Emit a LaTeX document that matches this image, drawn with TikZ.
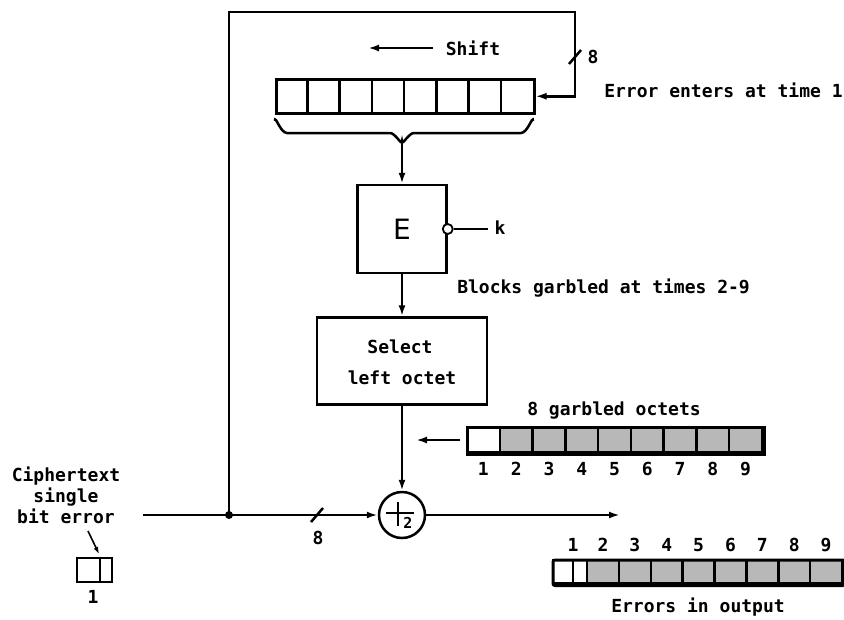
\documentclass[tikz,border=0pt]{standalone}
\usepackage{fontspec}
\newfontfamily\labf{DejaVu Sans Mono}
\newfontfamily\efont{DejaVu Sans}
\usetikzlibrary{arrows.meta,calc}
\begin{document}
\begin{tikzpicture}[x=1pt,y=-1pt,line width=2.5pt,
  >={Latex[length=11pt,width=7pt]},
  lbl/.style={font=\labf\bfseries\fontsize{18}{21}\selectfont,inner sep=0pt},
  box/.style={draw,line width=2.5pt,inner sep=0pt},
  shaded/.style={draw,line width=2.5pt,fill=black!28},
  plain/.style={draw,line width=2.5pt,fill=white}]
\useasboundingbox (0,0) rectangle (844,619);

% shift register
\node[box,minimum width=258pt,minimum height=34pt,anchor=north west] (reg) at (275,78) {};
\foreach \i in {1,...,7}
  \draw ($(reg.north west)+(\i*32.25,0)$) -- ($(reg.south west)+(\i*32.25,0)$);
\coordinate (shA) at (433,48);
\coordinate (shB) at (368,48);
\draw[->] (shA) -- (shB);
\node[lbl] (shift) at (473,48) {Shift};

% brace
\coordinate (brtip) at (402,141);
\draw (275,121) to[out=90,in=180] (287,133) -- (390,133) to[out=0,in=-90] (brtip)
      to[out=-90,in=180] (414,133) -- (521,133) to[out=0,in=90] (533,121);

% feedback loop
\coordinate (jn) at (229,515);
\coordinate (tl) at (229,12);
\coordinate (tr) at (575,12);
\draw[->] (jn) -- (tl) -- (tr) |- (reg.east);
\fill (jn) circle (4pt);
\draw (569,64) -- (581,50);
\node[lbl] (eight1) at (593,57) {8};
\node[lbl,anchor=west] (enters) at (603,90) {Error enters at time 1};

% E box
\node[box,minimum width=89pt,minimum height=88pt] (E) at (402,229) {\efont\fontsize{28}{28}\selectfont E};
\draw[->] (brtip) -- (E.north);
\node[draw,circle,fill=white,line width=1.8pt,minimum size=10pt,inner sep=0pt] (kc) at (E.east) {};
\coordinate (kend) at (488,229);
\draw (kc) -- (kend);
\node[lbl] (k) at (500,228) {k};
\node[lbl,anchor=west] (blocks) at (456,288) {Blocks garbled at times 2-9};

% select box
\node[box,minimum width=170pt,minimum height=87pt] (sel) at (402,361) {};
\node[lbl] (sel1) at (400,347) {Select};
\node[lbl] (sel2) at (402,378) {left octet};
\draw[->] (E.south) -- (sel.north);

% xor
\node[draw,circle,minimum size=46pt,inner sep=0pt] (xor) at (402,515) {};
\draw ($(xor.center)+(-16,-2)$) -- ($(xor.center)+(12,-2)$);
\draw ($(xor.center)+(-4,-13)$) -- ($(xor.center)+(-4,11)$);
\node[lbl,font=\labf\bfseries\fontsize{15}{15}\selectfont] (two) at ($(xor.center)+(6,8)$) {2};
\draw[->] (sel.south) -- (xor.north);

% input and output
\coordinate (in) at (143,515);
\coordinate (out) at (620,515);
\draw[->] (in) -- (xor.west);
\draw[->] (xor.east) -- (out);
\draw (311,522) -- (323,508);
\node[lbl] (eight2) at (318,538) {8};

% garbled octets
\node[inner sep=0pt,minimum width=295pt,minimum height=25pt,anchor=north west] (oct) at (467,427) {};
\draw[plain] (467,427) rectangle ++(32.78,25);
\foreach \i in {1,...,8}
  \draw[shaded] (467+\i*32.78,427) rectangle ++(32.78,25);
\foreach \i in {1,...,9}
  \node[lbl] at (467+\i*32.78-16.39,469) {\i};
\draw[line width=3pt] (oct.north west) rectangle (oct.south east);
\node[lbl] (garb) at (614,411) {8 garbled octets};
\coordinate (ocA) at (460,440);
\coordinate (ocB) at (416,440);
\draw[->] (ocA) -- (ocB);

% ciphertext error
\node[lbl,align=center] (ct) at (66,495) {Ciphertext\\single\\bit error};
\node[inner sep=0pt,minimum width=35pt,minimum height=24pt,anchor=north west] (bit) at (77,558) {};
\draw[plain,line width=2pt] (77,558) rectangle (100,582);
\draw[plain,line width=2pt] (100,558) rectangle (112,582);
\coordinate (bA) at (88,531);
\coordinate (bB) at (99,554);
\draw[->,line width=1.6pt,>={Latex[length=7pt,width=5pt]}] (bA) -- (bB);
\node[lbl] (one) at (93,597) {1};

% errors in output
\node[inner sep=0pt,minimum width=289pt,minimum height=23pt,anchor=north west] (outbar) at (553,560) {};
\draw[plain] (553,560) rectangle (573,583);
\draw[plain] (573,560) rectangle (587,583);
\foreach \i in {0,...,7}
  \draw[shaded] (587+\i*31.875,560) rectangle ++(31.875,23);
\draw[line width=3pt,rounded corners=2pt] (outbar.north west) rectangle (outbar.south east);
\node[lbl] at (573,545) {1};
\foreach \i in {2,...,9}
  \node[lbl] at (587+\i*31.875-47.8,545) {\i};
\node[lbl] (errs) at (698,607) {Errors in output};
\end{tikzpicture}
\end{document}
